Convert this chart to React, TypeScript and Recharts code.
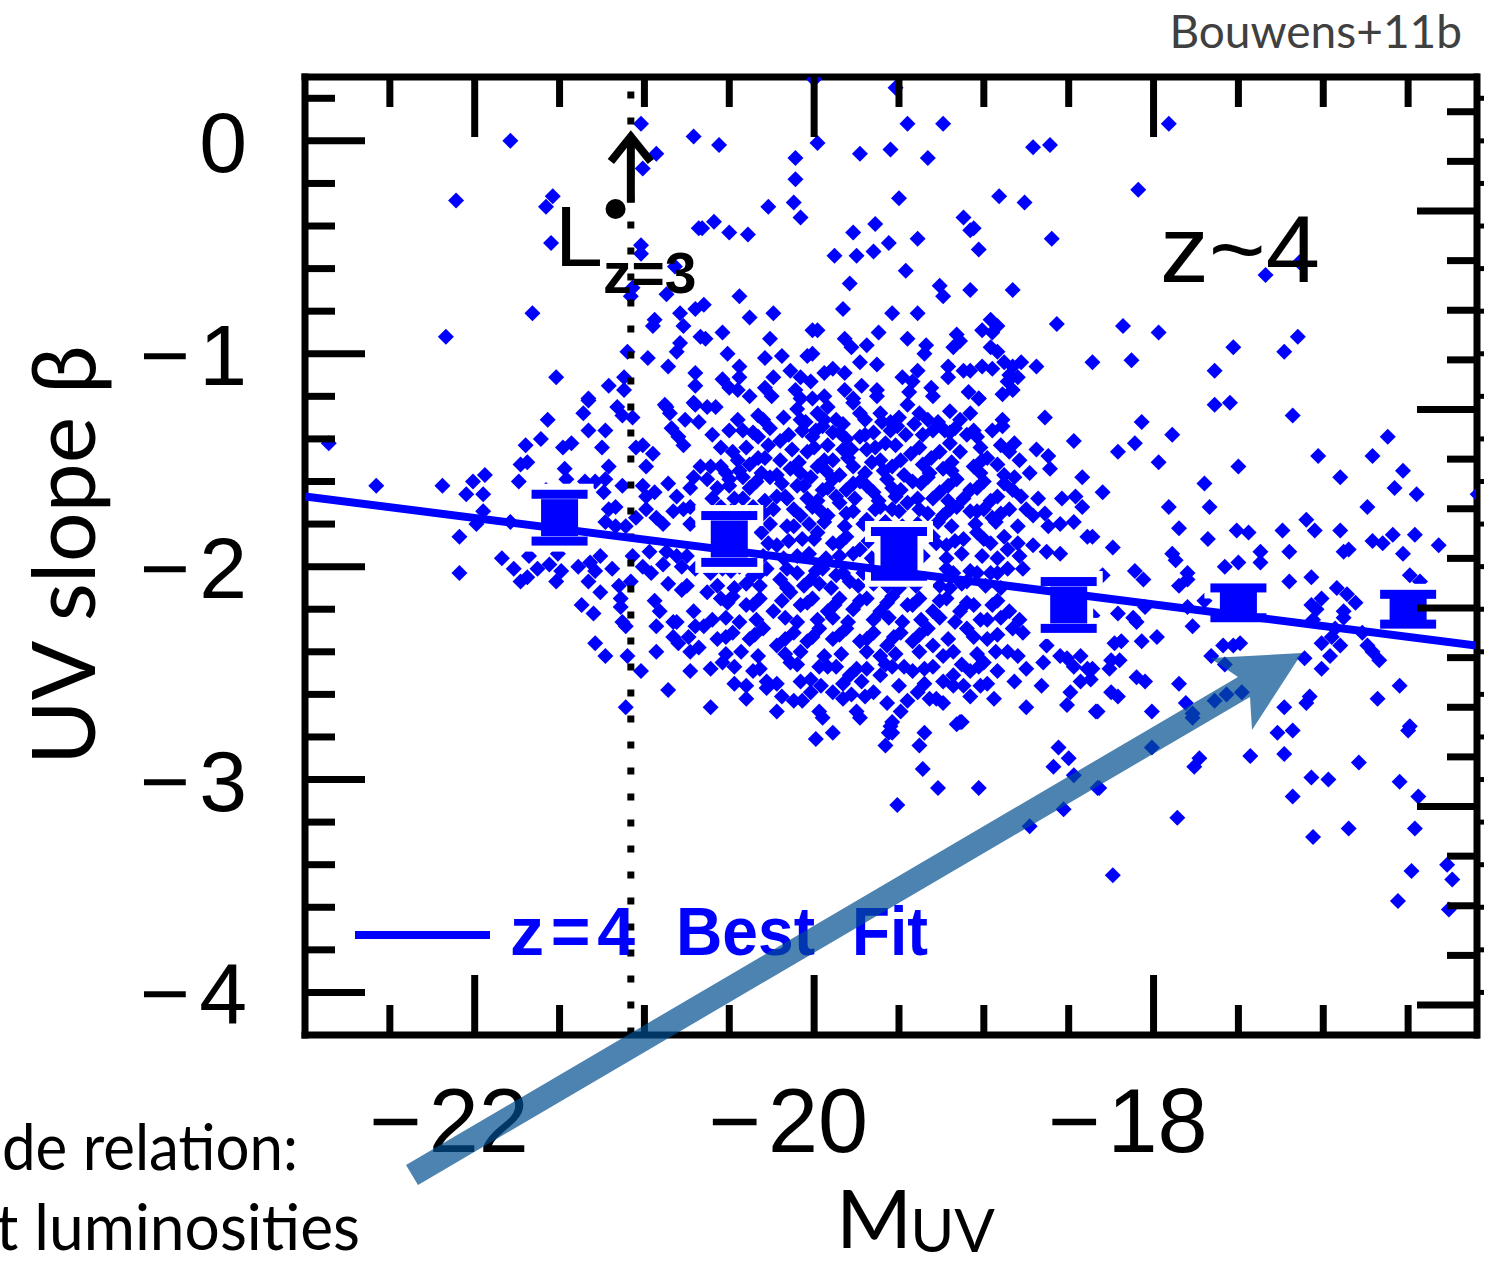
import React from "react";
import { ScatterChart, Scatter, XAxis, YAxis } from "recharts";

const W = 1496;
const H = 1262;

const BLUE = "#0000ff";
const TICK_FONT = "'Liberation Sans', Arial, sans-serif";
const GILL_FONT = "Lato, 'Open Sans', sans-serif";

// axes
const muvDomain: [number, number] = [-23, -16.1];
const betaDomain: [number, number] = [-4.2, 0.3];
const rightDomain: [number, number] = [-0.151, 4.675]; // unlabelled right-hand scale
const muvTicks = [-22.5, -22, -21.5, -21, -20.5, -20, -19.5, -19, -18.5, -18, -17.5, -17, -16.5];
const betaTicks = [0.2, 0, -0.2, -0.4, -0.6, -0.8, -1, -1.2, -1.4, -1.6, -1.8, -2, -2.2, -2.4, -2.6, -2.8, -3, -3.2, -3.4, -3.6, -3.8, -4];
const rightTicks = [0, 0.25, 0.5, 0.75, 1, 1.25, 1.5, 1.75, 2, 2.25, 2.5, 2.75, 3, 3.25, 3.5, 3.75, 4, 4.25, 4.5];

// individual z~4 galaxies, [M_UV, beta]
const upperGalaxies: [number, number][] = [
  [-21.02, 0.08], [-21.79, 0.0], [-20.71, 0.02], [-20.93, -0.06], [-21.01, -0.13], [-22.11, -0.28], [-21.54, -0.26],
  [-21.58, -0.31], [-21.55, -0.48], [-21.02, -0.49], [-21.02, -0.53], [-20.68, -0.41], [-20.82, -0.59], [-21.08, -0.73],
  [-20.87, -0.72], [-21.07, -0.69], [-20.79, -0.81], [-20.7, -0.79], [-20.94, -0.84], [-20.95, -0.87], [-20.77, -0.87],
  [-21.66, -0.81], [-20.67, -0.92], [-22.17, -0.92], [-20.79, -0.95], [-20.81, -0.99], [-21.1, -0.99], [-20.98, -1.02],
  [-20.86, -1.06], [-21.52, -1.11], [-21.21, -1.15], [-21.12, -1.11], [-21.12, -1.17], [-20.7, -1.09], [-20.7, -1.15],
  [-21.33, -1.21], [-20.88, -1.24], [-20.71, -1.23],
  [-20.0, 0.29], [-19.52, 0.25], [-19.45, 0.08], [-19.24, 0.08], [-20.56, -0.02], [-19.98, -0.01], [-20.11, -0.08],
  [-19.73, -0.06], [-19.55, -0.04], [-19.33, -0.08], [-18.71, -0.03], [-18.61, -0.02], [-20.11, -0.18], [-20.27, -0.31],
  [-20.12, -0.29], [-20.08, -0.36], [-19.5, -0.27], [-18.91, -0.26], [-18.76, -0.29], [-20.59, -0.38], [-20.66, -0.41],
  [-20.5, -0.43], [-20.39, -0.44], [-19.77, -0.43], [-19.64, -0.39], [-19.12, -0.36], [-19.06, -0.41], [-19.08, -0.42],
  [-19.56, -0.48], [-19.39, -0.46], [-18.6, -0.46], [-19.88, -0.54], [-19.75, -0.54], [-19.65, -0.52], [-19.03, -0.51],
  [-19.46, -0.61], [-19.79, -0.67], [-19.26, -0.68], [-19.24, -0.73], [-19.08, -0.7], [-18.83, -0.7], [-20.44, -0.73],
  [-20.65, -0.77], [-19.83, -0.79], [-19.54, -0.81], [-19.39, -0.81], [-20.38, -0.83], [-20.24, -0.81], [-18.96, -0.84],
  [-18.57, -0.86], [-20.01, -0.89], [-19.98, -0.89], [-20.54, -0.9], [-20.26, -0.93], [-20.64, -0.93], [-19.62, -0.9],
  [-19.82, -0.93], [-19.16, -0.91], [-19.14, -0.94], [-19.01, -0.89], [-18.92, -0.87], [-18.95, -0.9], [-19.45, -0.93],
  [-19.78, -0.97], [-19.69, -0.96], [-19.34, -0.96], [-19.35, -1.0], [-19.18, -0.97], [-18.96, -0.97], [-18.92, -0.99],
  [-20.51, -1.0], [-20.29, -1.02], [-20.19, -1.01], [-20.04, -1.01], [-20.01, -1.0], [-19.73, -1.04], [-19.63, -1.05],
  [-18.36, -1.04], [-18.69, -1.06], [-18.88, -1.04], [-18.83, -1.06], [-18.78, -1.04], [-18.85, -1.1], [-18.8, -1.11],
  [-18.86, -1.13], [-20.44, -1.06], [-20.54, -1.12], [-20.44, -1.11], [-20.24, -1.11], [-20.14, -1.08], [-20.08, -1.11],
  [-20.02, -1.13], [-19.94, -1.09], [-19.89, -1.07], [-19.82, -1.09], [-19.48, -1.11], [-19.42, -1.13], [-19.39, -1.08],
  [-19.21, -1.06], [-19.21, -1.11], [-19.12, -1.08], [-19.08, -1.08], [-19.01, -1.06], [-18.95, -1.07], [-20.5, -1.16],
  [-20.45, -1.17], [-20.38, -1.2], [-20.29, -1.16], [-20.25, -1.2], [-20.11, -1.17], [-20.08, -1.21], [-20.01, -1.21],
  [-19.94, -1.2], [-19.82, -1.17], [-19.72, -1.15], [-19.63, -1.17], [-19.63, -1.2], [-19.77, -1.21], [-19.44, -1.18],
  [-19.31, -1.16], [-19.3, -1.2], [-19.09, -1.18], [-19.03, -1.21], [-18.89, -1.19], [-18.83, -1.17],
  [-17.91, 0.08], [-18.09, -0.23], [-17.34, -0.63], [-17.14, -0.57], [-18.18, -0.87], [-17.97, -0.9], [-17.53, -0.97],
  [-17.23, -0.99], [-17.15, -0.92], [-18.13, -1.03], [-17.64, -1.08], [-17.64, -1.24], [-17.55, -1.23],
];

const brightGalaxies: [number, number][] = [
  [-22.86, -1.42], [-22.58, -1.62], [-22.19, -1.62], [-22.01, -1.6], [-21.94, -1.57], [-22.05, -1.66], [-21.95, -1.66],
  [-21.95, -1.74], [-21.99, -1.8], [-22.09, -1.86], [-22.09, -2.03], [-21.84, -1.96], [-21.77, -2.01], [-21.73, -2.07],
  [-21.68, -1.95], [-21.69, -2.05], [-21.63, -2.01], [-21.56, -1.99], [-21.51, -1.94], [-21.52, -2.07], [-21.49, -2.02],
  [-21.39, -2.0], [-21.32, -1.98], [-21.26, -1.95], [-21.29, -2.02], [-21.33, -2.07], [-21.26, -2.12], [-21.19, -2.01],
  [-21.15, -2.09], [-21.08, -2.07], [-21.37, -2.18], [-21.3, -2.22], [-21.14, -2.15], [-21.14, -2.19], [-21.13, -2.26],
  [-21.11, -2.28], [-21.29, -2.36], [-21.23, -2.42], [-21.1, -2.42], [-21.02, -2.49], [-20.86, -2.58], [-20.73, -2.49],
  [-20.93, -2.4], [-20.83, -2.33], [-20.8, -2.36], [-20.74, -2.33], [-20.73, -2.4], [-20.68, -2.38], [-20.93, -2.28],
  [-20.83, -2.26], [-20.81, -2.26], [-20.91, -2.21], [-20.94, -2.16], [-20.86, -2.08], [-20.78, -2.11], [-20.75, -2.09],
  [-20.71, -2.21], [-20.7, -2.28], [-21.11, -2.66], [-21.01, -2.0], [-20.96, -2.03], [-20.89, -1.99], [-20.78, -2.0],
  [-20.7, -2.01], [-21.07, -1.95], [-20.97, -1.93], [-20.87, -1.93], [-20.81, -1.95], [-20.75, -1.95], [-20.89, -1.8],
  [-20.73, -1.8], [-20.83, -1.74], [-20.77, -1.73], [-20.73, -1.72], [-20.99, -1.73], [-21.05, -1.77], [-20.93, -1.77],
  [-21.23, -1.79], [-21.17, -1.81], [-21.11, -1.81], [-21.21, -1.73], [-21.17, -1.72], [-21.24, -1.65], [-21.29, -1.6],
  [-21.35, -1.6], [-21.23, -1.59], [-21.13, -1.62], [-21.01, -1.62], [-20.99, -1.67], [-20.94, -1.65], [-20.86, -1.61],
  [-20.81, -1.67], [-20.73, -1.63], [-20.71, -1.58], [-20.67, -1.53], [-21.21, -1.53], [-20.99, -1.53], [-21.05, -1.44],
  [-21.01, -1.43], [-20.95, -1.47], [-21.25, -1.44], [-21.48, -1.44], [-21.43, -1.42], [-21.47, -1.54], [-21.46, -1.59],
  [-21.61, -1.4], [-21.7, -1.43], [-21.73, -1.52], [-21.69, -1.51], [-21.74, -1.6], [-21.57, -1.31], [-21.36, -1.28],
  [-21.33, -1.36], [-21.23, -1.36], [-21.33, -1.22], [-21.16, -1.25], [-21.13, -1.29], [-21.07, -1.3], [-20.87, -1.25],
  [-20.85, -1.28], [-20.84, -1.35], [-20.8, -1.39], [-20.77, -1.43], [-20.76, -1.31], [-20.7, -1.24], [-20.68, -1.32],
  [-21.79, -1.79], [-21.58, -1.64],
];

const coreGalaxies: [number, number][] = [
  [-20.63, -1.25], [-20.58, -1.25], [-20.33, -1.29], [-20.1, -1.26], [-20.08, -1.31], [-19.98, -1.28], [-19.92, -1.25],
  [-19.87, -1.31], [-19.77, -1.23], [-19.73, -1.28], [-19.61, -1.28], [-19.55, -1.32], [-19.45, -1.24], [-19.38, -1.28],
  [-19.33, -1.31], [-19.2, -1.27], [-19.08, -1.28], [-19.03, -1.21], [-18.89, -1.31], [-18.64, -1.3],
  [-20.6, -1.38], [-20.5, -1.36], [-20.42, -1.36], [-20.33, -1.39], [-20.26, -1.35], [-20.2, -1.41], [-20.07, -1.36],
  [-20.01, -1.39], [-19.95, -1.34], [-19.89, -1.37], [-19.81, -1.4], [-19.73, -1.39], [-19.65, -1.37], [-19.58, -1.42],
  [-19.51, -1.34], [-19.46, -1.38], [-19.41, -1.33], [-19.3, -1.36], [-19.23, -1.36], [-19.17, -1.35], [-19.1, -1.38],
  [-19.04, -1.39], [-18.95, -1.36], [-18.89, -1.34], [-18.82, -1.42], [-18.47, -1.41],
  [-20.61, -1.53], [-20.55, -1.53], [-20.48, -1.46], [-20.38, -1.52], [-20.29, -1.49], [-20.2, -1.5], [-20.14, -1.54],
  [-20.04, -1.46], [-19.98, -1.53], [-19.89, -1.5], [-19.83, -1.45], [-19.77, -1.53], [-19.69, -1.45], [-19.61, -1.5],
  [-19.54, -1.53], [-19.43, -1.47], [-19.36, -1.52], [-19.26, -1.46], [-19.24, -1.54], [-19.14, -1.46], [-19.06, -1.53],
  [-18.98, -1.49], [-18.92, -1.52], [-18.85, -1.46], [-18.79, -1.5], [-18.69, -1.45], [-18.62, -1.48], [-18.61, -1.54],
  [-20.63, -1.59], [-20.57, -1.63], [-20.5, -1.59], [-20.42, -1.58], [-20.34, -1.6], [-20.26, -1.58], [-20.17, -1.67],
  [-20.1, -1.62], [-20.02, -1.58], [-19.95, -1.64], [-19.89, -1.59], [-19.81, -1.64], [-19.73, -1.6], [-19.65, -1.65],
  [-19.57, -1.59], [-19.49, -1.64], [-19.42, -1.6], [-19.33, -1.58], [-19.26, -1.65], [-19.16, -1.59], [-19.08, -1.64],
  [-19.0, -1.6], [-18.92, -1.67], [-18.83, -1.64], [-18.82, -1.58], [-18.42, -1.58], [-18.54, -1.68], [-18.46, -1.67],
  [-18.42, -1.72],
  [-20.55, -1.72], [-20.42, -1.68], [-20.36, -1.72], [-20.24, -1.73], [-20.16, -1.68], [-20.08, -1.76], [-20.01, -1.72],
  [-19.92, -1.76], [-19.85, -1.7], [-19.77, -1.74], [-19.69, -1.78], [-19.61, -1.72], [-19.54, -1.73], [-19.45, -1.7],
  [-19.38, -1.73], [-19.3, -1.68], [-19.24, -1.76], [-19.16, -1.72], [-19.08, -1.74], [-19.0, -1.73], [-18.95, -1.77],
  [-18.85, -1.73], [-18.75, -1.73], [-18.71, -1.76], [-18.64, -1.75], [-18.62, -1.81], [-18.47, -1.79],
  [-20.31, -1.84], [-20.22, -1.9], [-20.12, -1.81], [-20.07, -1.87], [-19.98, -1.84], [-19.89, -1.89], [-19.81, -1.86],
  [-19.73, -1.92], [-19.3, -1.86], [-19.22, -1.9], [-19.12, -1.87], [-19.04, -1.84], [-18.96, -1.89], [-18.88, -1.86],
  [-18.86, -1.92], [-18.71, -1.9], [-18.63, -1.93], [-18.39, -1.86],
  [-20.61, -2.03], [-20.54, -2.01], [-20.44, -2.0], [-20.36, -2.04], [-20.28, -2.01], [-20.2, -2.06], [-20.1, -2.03],
  [-20.02, -2.06], [-19.95, -2.01], [-19.87, -2.04], [-19.79, -2.07], [-19.71, -2.03], [-19.57, -2.09], [-19.45, -2.06],
  [-19.33, -2.04], [-19.26, -2.09], [-19.18, -2.03], [-19.1, -2.07], [-19.04, -2.03], [-18.96, -2.03], [-18.86, -2.01],
  [-18.77, -2.01],
  [-20.63, -2.12], [-20.55, -2.15], [-20.48, -2.14], [-20.4, -2.18], [-20.32, -2.15], [-20.24, -2.21], [-20.14, -2.12],
  [-20.08, -2.18], [-20.01, -2.15], [-19.92, -2.21], [-19.85, -2.15], [-19.77, -2.2], [-19.69, -2.15], [-19.61, -2.21],
  [-19.54, -2.14], [-19.45, -2.18], [-19.38, -2.15], [-19.3, -2.21], [-19.22, -2.15], [-19.14, -2.21], [-19.06, -2.18],
  [-18.98, -2.25], [-18.92, -2.16], [-18.85, -2.21], [-18.79, -2.25],
  [-20.65, -2.28], [-20.57, -2.34], [-20.48, -2.31], [-20.38, -2.34], [-20.3, -2.29], [-20.22, -2.37], [-20.12, -2.31],
  [-20.04, -2.35], [-19.97, -2.29], [-19.89, -2.34], [-19.81, -2.29], [-19.73, -2.35], [-19.65, -2.31], [-19.57, -2.37],
  [-19.49, -2.31], [-19.42, -2.35], [-19.33, -2.29], [-19.3, -2.37], [-19.18, -2.4], [-19.1, -2.29], [-18.98, -2.34],
  [-18.86, -2.4], [-18.83, -2.29], [-18.77, -2.31], [-18.63, -2.37], [-18.55, -2.42], [-18.43, -2.42], [-18.47, -2.47],
  [-20.61, -2.48], [-20.54, -2.45], [-20.36, -2.49], [-20.28, -2.54], [-20.14, -2.45], [-20.02, -2.53], [-19.92, -2.47],
  [-19.87, -2.47], [-19.79, -2.51], [-19.69, -2.48], [-19.61, -2.51], [-19.54, -2.47], [-19.42, -2.49], [-19.3, -2.47],
  [-19.18, -2.51], [-19.08, -2.49], [-19.0, -2.45], [-18.92, -2.49], [-18.75, -2.48], [-18.65, -2.45], [-18.51, -2.43],
  [-18.39, -2.48], [-18.43, -2.54], [-18.49, -2.59], [-18.66, -2.56],
  [-20.61, -2.66], [-20.22, -2.68], [-20.28, -2.57], [-20.12, -2.63], [-20.02, -2.59], [-19.97, -2.68], [-19.89, -2.59],
  [-19.78, -2.6], [-19.75, -2.68], [-19.65, -2.59], [-19.57, -2.64], [-19.54, -2.73], [-19.49, -2.68], [-19.39, -2.59],
  [-19.32, -2.62], [-19.24, -2.64], [-19.14, -2.73], [-19.18, -2.56], [-19.02, -2.56], [-18.94, -2.62], [-18.75, -2.66],
  [-18.51, -2.65], [-18.34, -2.68],
  [-19.99, -2.81], [-19.89, -2.78], [-19.95, -2.71], [-19.73, -2.71], [-19.55, -2.75], [-19.56, -2.78], [-19.54, -2.78],
  [-19.58, -2.84], [-19.35, -2.78], [-19.38, -2.84], [-19.36, -2.95], [-19.27, -3.04], [-19.03, -3.04], [-19.51, -3.12],
  [-19.16, -2.74], [-19.13, -2.73], [-18.56, -2.85], [-18.5, -2.9], [-18.59, -2.94], [-18.47, -2.98], [-18.33, -3.04],
  [-18.53, -3.14], [-18.73, -3.22],
];

// the crowded middle of the cloud, where single symbols merge
const crowdedGalaxies: [number, number][] = [
  [-20.45, -1.31], [-20.3, -1.31], [-20.18, -1.3], [-20.05, -1.32], [-19.94, -1.31], [-19.83, -1.33], [-19.7, -1.31],
  [-19.6, -1.32], [-19.5, -1.3], [-19.27, -1.32], [-19.14, -1.31],
  [-20.36, -1.37], [-20.15, -1.38], [-19.99, -1.36], [-19.85, -1.37], [-19.7, -1.38], [-19.55, -1.36], [-19.36, -1.38],
  [-19.2, -1.37], [-19.06, -1.36],
  [-20.55, -1.44], [-20.4, -1.44], [-20.27, -1.43], [-20.13, -1.45], [-20.0, -1.44], [-19.92, -1.43], [-19.78, -1.45],
  [-19.64, -1.44], [-19.52, -1.43], [-19.38, -1.44], [-19.2, -1.42], [-19.02, -1.44], [-18.9, -1.43],
  [-20.45, -1.5], [-20.33, -1.49], [-20.09, -1.51], [-19.94, -1.5], [-19.8, -1.49], [-19.66, -1.51], [-19.49, -1.5],
  [-19.31, -1.49], [-19.19, -1.51], [-19.01, -1.5],
  [-20.52, -1.56], [-20.44, -1.55], [-20.31, -1.56], [-20.22, -1.57], [-20.08, -1.56], [-19.93, -1.55], [-19.85, -1.57],
  [-19.7, -1.56], [-19.59, -1.55], [-19.47, -1.57], [-19.32, -1.56], [-19.19, -1.55], [-19.02, -1.56], [-18.88, -1.57],
  [-18.73, -1.56],
  [-20.5, -1.62], [-20.38, -1.63], [-20.19, -1.61], [-20.06, -1.62], [-19.92, -1.63], [-19.77, -1.61], [-19.69, -1.62],
  [-19.54, -1.63], [-19.37, -1.61], [-19.21, -1.62], [-19.04, -1.63], [-18.88, -1.61],
  [-20.6, -1.68], [-20.47, -1.68], [-20.29, -1.69], [-20.22, -1.67], [-20.04, -1.68], [-19.98, -1.69], [-19.87, -1.67],
  [-19.76, -1.68], [-19.62, -1.69], [-19.52, -1.67], [-19.39, -1.68], [-19.21, -1.69], [-19.12, -1.68], [-18.96, -1.69],
  [-18.78, -1.67], [-18.68, -1.68],
  [-20.49, -1.74], [-20.3, -1.75], [-20.12, -1.73], [-19.96, -1.74], [-19.81, -1.75], [-19.64, -1.73], [-19.5, -1.74],
  [-19.33, -1.75], [-19.2, -1.73], [-19.04, -1.74], [-18.9, -1.75],
  [-20.6, -1.8], [-20.47, -1.81], [-20.4, -1.79], [-20.26, -1.8], [-20.16, -1.81], [-20.03, -1.8], [-19.94, -1.79],
  [-19.82, -1.81], [-19.71, -1.8], [-19.58, -1.79], [-19.48, -1.81], [-19.39, -1.8], [-19.27, -1.79], [-19.19, -1.81],
  [-19.05, -1.8], [-18.93, -1.79], [-18.8, -1.81], [-18.55, -1.8],
  [-20.55, -1.88], [-20.41, -1.87], [-20.27, -1.89], [-20.15, -1.88], [-20.0, -1.87], [-19.85, -1.89], [-19.68, -1.88],
  [-19.4, -1.87], [-19.28, -1.89], [-19.17, -1.88], [-19.0, -1.87], [-18.8, -1.89],
  [-20.6, -1.95], [-20.5, -1.96], [-20.42, -1.94], [-20.3, -1.95], [-20.18, -1.96], [-20.1, -1.95], [-20.03, -1.94],
  [-19.93, -1.96], [-19.85, -1.95], [-19.77, -1.94], [-19.66, -1.96], [-19.36, -1.95], [-19.22, -1.96], [-19.13, -1.94],
  [-19.01, -1.95], [-18.92, -1.96], [-18.79, -1.95], [-18.55, -1.94],
  [-20.49, -2.02], [-20.32, -2.03], [-20.16, -2.01], [-19.99, -2.02], [-19.83, -2.03], [-19.66, -2.01], [-19.52, -2.02],
  [-19.39, -2.03], [-19.22, -2.01], [-19.08, -2.02], [-18.92, -2.03],
  [-20.57, -2.09], [-20.47, -2.1], [-20.4, -2.08], [-20.32, -2.09], [-20.16, -2.1], [-20.06, -2.09], [-19.97, -2.08],
  [-19.9, -2.1], [-19.74, -2.09], [-19.65, -2.08], [-19.5, -2.1], [-19.4, -2.09], [-19.2, -2.1], [-19.13, -2.08],
  [-18.99, -2.09], [-18.9, -2.1],
  [-20.51, -2.17], [-20.36, -2.18], [-20.19, -2.16], [-20.04, -2.17], [-19.88, -2.18], [-19.73, -2.16], [-19.57, -2.17],
  [-19.42, -2.18], [-19.26, -2.16], [-19.1, -2.17], [-18.95, -2.18],
  [-20.6, -2.25], [-20.52, -2.24], [-20.44, -2.26], [-20.34, -2.25], [-20.17, -2.24], [-20.1, -2.26], [-19.98, -2.25],
  [-19.89, -2.24], [-19.8, -2.26], [-19.65, -2.25], [-19.56, -2.24], [-19.48, -2.26], [-19.37, -2.25], [-19.26, -2.24],
  [-19.17, -2.26], [-19.02, -2.25], [-18.9, -2.24],
  [-20.52, -2.33], [-20.35, -2.32], [-20.17, -2.34], [-20.01, -2.33], [-19.85, -2.32], [-19.69, -2.34], [-19.53, -2.33],
  [-19.38, -2.32], [-19.21, -2.34], [-19.06, -2.33], [-18.92, -2.32],
  [-20.52, -2.41], [-20.43, -2.4], [-20.33, -2.42], [-20.17, -2.41], [-20.08, -2.4], [-19.94, -2.42], [-19.84, -2.41],
  [-19.69, -2.4], [-19.61, -2.42], [-19.52, -2.41], [-19.38, -2.4], [-19.24, -2.42], [-19.04, -2.41], [-18.93, -2.4],
  [-18.8, -2.42],
  [-20.47, -2.47], [-20.32, -2.48], [-20.1, -2.46], [-19.97, -2.47], [-19.75, -2.48], [-19.58, -2.46], [-19.47, -2.47],
  [-19.35, -2.48], [-19.13, -2.46], [-19.03, -2.47],
  [-20.47, -2.55], [-20.4, -2.56], [-20.22, -2.55], [-20.08, -2.54], [-19.96, -2.56], [-19.83, -2.55], [-19.72, -2.54],
  [-19.5, -2.56], [-19.35, -2.55], [-19.24, -2.54], [-19.12, -2.56], [-18.98, -2.55], [-18.82, -2.54],
  [-20.4, -2.62], [-20.19, -2.61], [-20.07, -2.63], [-19.83, -2.62], [-19.7, -2.61], [-19.45, -2.63], [-19.28, -2.62],
  [-19.08, -2.61],
];

const faintGalaxies: [number, number][] = [
  [-17.18, -1.29], [-18.07, -1.32], [-17.89, -1.38], [-18.11, -1.42], [-18.21, -1.46], [-17.97, -1.51], [-17.5, -1.53],
  [-17.03, -1.48], [-16.71, -1.48], [-16.62, -1.39], [-16.53, -1.55], [-16.9, -1.58], [-16.58, -1.63], [-16.45, -1.66],
  [-16.09, -1.66], [-18.3, -1.65], [-17.7, -1.61], [-17.91, -1.72], [-17.67, -1.72], [-16.74, -1.72], [-17.85, -1.82],
  [-17.51, -1.83], [-17.44, -1.84], [-17.68, -1.87], [-18.36, -1.86], [-17.24, -1.83], [-17.1, -1.78], [-17.05, -1.83],
  [-16.9, -1.83], [-16.59, -1.85], [-16.46, -1.85], [-16.71, -1.88], [-16.65, -1.89], [-16.32, -1.9], [-18.24, -1.91],
  [-17.89, -1.94], [-17.87, -1.97], [-17.37, -1.93], [-17.37, -1.98], [-17.5, -1.98], [-17.2, -1.93], [-16.88, -1.93],
  [-16.85, -1.92], [-16.53, -1.94], [-17.58, -2.0], [-18.3, -2.04], [-18.11, -2.02], [-18.06, -2.06], [-17.8, -2.03],
  [-17.8, -2.06], [-17.85, -2.09], [-17.2, -2.07], [-17.07, -2.05], [-16.49, -2.04], [-16.43, -2.07], [-16.92, -2.1],
  [-16.86, -2.13], [-16.81, -2.17], [-17.01, -2.15], [-17.07, -2.18], [-17.04, -2.2], [-16.88, -2.21], [-16.88, -2.24],
  [-17.06, -2.25], [-17.7, -2.16], [-17.8, -2.19], [-18.36, -2.23], [-18.21, -2.22], [-18.05, -2.19], [-18.12, -2.24],
  [-18.1, -2.26], [-17.77, -2.28], [-16.77, -2.31], [-16.93, -2.29], [-16.95, -2.33], [-17.01, -2.36], [-16.9, -2.37],
  [-16.96, -2.42], [-17.11, -2.43], [-17.01, -2.48], [-16.74, -2.37], [-16.71, -2.4], [-16.67, -2.44], [-16.55, -2.56],
  [-16.68, -2.62], [-16.49, -2.75], [-18.23, -2.36], [-18.19, -2.35], [-18.07, -2.35], [-17.98, -2.33], [-17.59, -2.37],
  [-17.53, -2.37], [-17.49, -2.36], [-17.66, -2.42], [-17.58, -2.46], [-18.25, -2.44], [-18.2, -2.44], [-18.26, -2.48],
  [-18.36, -2.48], [-18.37, -2.53], [-18.1, -2.52], [-18.05, -2.54], [-17.85, -2.55], [-18.25, -2.59], [-18.21, -2.61],
  [-17.81, -2.64], [-18.33, -2.68], [-18.01, -2.68], [-17.77, -2.69], [-17.64, -2.63], [-17.57, -2.6], [-17.48, -2.59],
  [-17.08, -2.61], [-17.1, -2.64], [-17.23, -2.66],
  [-18.32, -3.04], [-18.24, -3.45], [-18.01, -2.85], [-17.86, -3.18], [-17.76, -2.94], [-17.73, -2.9], [-17.43, -2.89],
  [-17.27, -2.78], [-17.18, -2.77], [-17.23, -2.88], [-17.07, -2.99], [-16.97, -3.0], [-17.18, -3.08], [-17.06, -3.27],
  [-16.85, -3.23], [-16.79, -2.92], [-16.5, -2.77], [-16.55, -3.01], [-16.44, -3.08], [-16.46, -3.23], [-16.48, -3.43],
  [-16.56, -3.57], [-16.27, -3.4], [-16.24, -3.47], [-16.26, -3.61], [-17.77, -2.71],
];

// binned means with errors
const binMuv = [-21.5, -20.5, -19.5, -18.5, -17.5, -16.5];
const binBeta = [-1.77, -1.87, -1.94, -2.18, -2.17, -2.2];
const binErr = [0.11, 0.11, 0.105, 0.11, 0.07, 0.07];

// z=4 best fit
const fitMuv = [-23, -16.1];
const fitBeta = [-1.67, -2.37];

// L*(z=3) marker
const lstarMuv = -21.08;
const lstarArrowBeta = [-0.29, 0.02];
const lstarDotMuv = -21.17;
const lstarDotBeta = -0.32;

const galaxies = [...upperGalaxies, ...brightGalaxies, ...coreGalaxies, ...crowdedGalaxies, ...faintGalaxies].map(
  ([x, y]) => ({ x, y })
);
const binCentres = binMuv.map((x, i) => ({ x, y: binBeta[i], kind: "box" }));
const binCaps = binMuv.flatMap((x, i) => [
  { x, y: binBeta[i] + binErr[i], kind: "cap" },
  { x, y: binBeta[i] - binErr[i], kind: "cap" },
]);
const binPoints = [...binCaps, ...binCentres];
const fitLine = fitMuv.map((x, i) => ({ x, y: fitBeta[i] }));
const dottedLine = [
  { x: lstarMuv, y: rightDomain[1] },
  { x: lstarMuv, y: rightDomain[0] },
];
const lstarArrow = lstarArrowBeta.map((y, i) => ({ x: lstarMuv, y, tip: i === 1 }));
const lstarDot = [{ x: lstarDotMuv, y: lstarDotBeta }];

const TICK_W = 7;
const LONG = 60;
const SHORT = 30;

const isMult = (v: number, m: number) => Math.abs(v / m - Math.round(v / m)) < 1e-6;

function BottomTick(props: any) {
  const { x, y, payload } = props;
  const v: number = payload.value;
  const major = isMult(v, 2);
  return (
    <g>
      <line x1={x} x2={x} y1={y} y2={y - (major ? LONG : SHORT)} stroke="#000" strokeWidth={TICK_W} />
      {major && (
        <>
          <text x={x - 53} y={y + 117} textAnchor="end" fontFamily={TICK_FONT} fontSize={90} fill="#000">
            −
          </text>
          <text x={x + 4} y={y + 117} textAnchor="middle" fontFamily={TICK_FONT} fontSize={90} fill="#000">
            {Math.abs(v)}
          </text>
        </>
      )}
    </g>
  );
}

function TopTick(props: any) {
  const { x, y, payload } = props;
  const major = isMult(payload.value, 2);
  return <line x1={x} x2={x} y1={y} y2={y + (major ? LONG : SHORT)} stroke="#000" strokeWidth={TICK_W} />;
}

function LeftTick(props: any) {
  const { x, y, payload } = props;
  const v: number = payload.value;
  const major = isMult(v, 1);
  return (
    <g>
      <line x1={x} x2={x + (major ? LONG : SHORT)} y1={y} y2={y} stroke="#000" strokeWidth={TICK_W} />
      {major && (
        <>
          {v < 0 && (
            <text x={x - 115} y={y + 31} textAnchor="end" fontFamily={TICK_FONT} fontSize={86} fill="#000">
              −
            </text>
          )}
          <text x={x - 58} y={y + 31} textAnchor="end" fontFamily={TICK_FONT} fontSize={86} fill="#000">
            {Math.abs(Math.round(v))}
          </text>
        </>
      )}
    </g>
  );
}

function RightStub(props: any) {
  const { x, y } = props;
  return <line x1={x + 2} x2={x + 8} y1={y} y2={y} stroke="#000" strokeWidth={5} />;
}

function RightTick(props: any) {
  const { x, y, payload } = props;
  const major = isMult(payload.value, 1);
  return <line x1={x - (major ? LONG : SHORT)} x2={x} y1={y} y2={y} stroke="#000" strokeWidth={TICK_W} />;
}

const Diamond = (props: any) => {
  const { cx, cy } = props;
  const r = 8;
  return <path d={`M${cx},${cy - r}L${cx + r},${cy}L${cx},${cy + r}L${cx - r},${cy}Z`} fill={BLUE} />;
};

const binShape = (halo: boolean) => (props: any) => {
  const { cx, cy, payload } = props;
  const pad = halo ? 6 : 0;
  const fill = halo ? "#fff" : BLUE;
  if (payload.kind === "cap") {
    return <rect x={cx - 28 - pad} y={cy - 4.5 - pad} width={56 + 2 * pad} height={9 + 2 * pad} fill={fill} />;
  }
  return <rect x={cx - 18.5 - pad} y={cy - 18.5 - pad} width={37 + 2 * pad} height={37 + 2 * pad} fill={fill} />;
};

const LstarHead = (props: any) => {
  const { cx, cy, payload } = props;
  if (!payload.tip) return <g />;
  return (
    <polyline
      points={`${cx - 20},${cy + 25} ${cx},${cy} ${cx + 20},${cy + 25}`}
      fill="none"
      stroke="#000"
      strokeWidth={8}
    />
  );
};

const NoDot = () => <g />;

const axisLine = { stroke: "#000", strokeWidth: 7, strokeLinecap: "square" as const };

export default function App() {
  return (
    <div style={{ position: "absolute", left: 0, top: 0, width: W, height: H, background: "#fff", overflow: "hidden" }}>
      <div style={{ position: "absolute", left: 0, top: 0 }}>
        <ScatterChart width={W} height={H} margin={{ top: 76, right: 18, bottom: 0, left: 0 }}>
          <XAxis
            xAxisId="xb"
            type="number"
            dataKey="x"
            domain={muvDomain}
            ticks={muvTicks}
            interval={0}
            allowDataOverflow
            height={227}
            tickSize={0}
            tickMargin={0}
            tickLine={false}
            axisLine={axisLine}
            tick={BottomTick}
          />
          <XAxis
            xAxisId="xt"
            orientation="top"
            type="number"
            dataKey="x"
            domain={muvDomain}
            ticks={muvTicks}
            interval={0}
            allowDataOverflow
            height={1}
            tickSize={0}
            tickMargin={0}
            tickLine={false}
            axisLine={axisLine}
            tick={TopTick}
          />
          <YAxis
            yAxisId="yl"
            type="number"
            dataKey="y"
            domain={betaDomain}
            ticks={betaTicks}
            interval={0}
            allowDataOverflow
            width={305}
            tickSize={0}
            tickMargin={0}
            tickLine={false}
            axisLine={axisLine}
            tick={LeftTick}
          />
          <YAxis
            yAxisId="ys"
            orientation="right"
            type="number"
            dataKey="y"
            domain={rightDomain}
            ticks={rightTicks}
            interval={0}
            allowDataOverflow
            width={1}
            tickSize={0}
            tickMargin={0}
            tickLine={false}
            axisLine={axisLine}
            tick={RightTick}
          />
          <YAxis
            yAxisId="yr"
            orientation="right"
            type="number"
            dataKey="y"
            domain={betaDomain}
            ticks={betaTicks}
            interval={0}
            allowDataOverflow
            width={1}
            tickSize={0}
            tickMargin={0}
            tickLine={false}
            axisLine={false}
            tick={RightStub}
          />

          <Scatter xAxisId="xb" yAxisId="yl" data={galaxies} fill={BLUE} shape={Diamond} isAnimationActive={false} />
          <Scatter
            xAxisId="xt"
            yAxisId="ys"
            data={dottedLine}
            fill="#000"
            line={{ stroke: "#000", strokeWidth: 7, strokeDasharray: "7 19", strokeDashoffset: 11.5 }}
            shape={NoDot}
            isAnimationActive={false}
          />
          <Scatter
            xAxisId="xb"
            yAxisId="yl"
            data={lstarArrow}
            fill="#000"
            line={{ stroke: "#000", strokeWidth: 8 }}
            shape={LstarHead}
            isAnimationActive={false}
          />
          <Scatter
            xAxisId="xb"
            yAxisId="yr"
            data={lstarDot}
            fill="#000"
            shape={(p: any) => <circle cx={p.cx} cy={p.cy} r={10} fill="#000" />}
            isAnimationActive={false}
          />
          <Scatter xAxisId="xb" yAxisId="yl" data={binPoints} fill="#fff" shape={binShape(true)} isAnimationActive={false} />
          <Scatter
            xAxisId="xb"
            yAxisId="yl"
            data={fitLine}
            fill={BLUE}
            line={{ stroke: BLUE, strokeWidth: 8 }}
            shape={NoDot}
            isAnimationActive={false}
          />
          <Scatter xAxisId="xb" yAxisId="yl" data={binPoints} fill={BLUE} shape={binShape(false)} isAnimationActive={false} />
        </ScatterChart>
      </div>

      <svg width={W} height={H} style={{ position: "absolute", left: 0, top: 0, pointerEvents: "none" }}>
        <text x={1462} y={48} textAnchor="end" fontFamily={GILL_FONT} fontSize={46} fill="#404040">
          Bouwens+11b
        </text>
        <text
          x={95}
          y={555}
          transform="rotate(-90 95 555)"
          textAnchor="middle"
          fontFamily={GILL_FONT}
          fontSize={88}
          fill="#000"
        >
          UV slope β
        </text>
        <text x={836} y={1248} fontFamily={GILL_FONT} fontSize={82} fill="#000">
          M
          <tspan fontSize={60} dx={-2} dy={4}>
            UV
          </tspan>
        </text>
        <text x={2} y={1170} textLength={296} lengthAdjust="spacingAndGlyphs" fontFamily={GILL_FONT} fontSize={64} fill="#000">
          de relation:
        </text>
        <text x={-4} y={1250} textLength={364} lengthAdjust="spacingAndGlyphs" fontFamily={GILL_FONT} fontSize={64} fill="#000">
          t luminosities
        </text>

        <text x={555} y={266} fontFamily={TICK_FONT} fontSize={86} fill="#000">
          L
        </text>
        <text x={603} y={293} fontFamily={TICK_FONT} fontSize={57} fontWeight="bold" fill="#000">
          z=3
        </text>
        <text x={1160} y={282} textLength={160} lengthAdjust="spacingAndGlyphs" fontFamily={TICK_FONT} fontSize={94} fill="#000">
          z~4
        </text>

        <line x1={355} x2={490} y1={935} y2={935} stroke={BLUE} strokeWidth={8} />
        <g fontFamily={TICK_FONT} fontSize={68} fontWeight="bold" fill={BLUE}>
          <text x={510} y={955} textLength={125} lengthAdjust="spacing">
            z=4
          </text>
          <text x={676} y={955} textLength={139} lengthAdjust="spacingAndGlyphs">
            Best
          </text>
          <text x={852} y={955} textLength={76} lengthAdjust="spacingAndGlyphs">
            Fit
          </text>
        </g>

        <polygon
          points="406,1165 1238,677 1210,658 1302,653 1252,730 1250,697 418,1185"
          fill="#004E8F"
          fillOpacity={0.7}
        />
      </svg>
    </div>
  );
}
